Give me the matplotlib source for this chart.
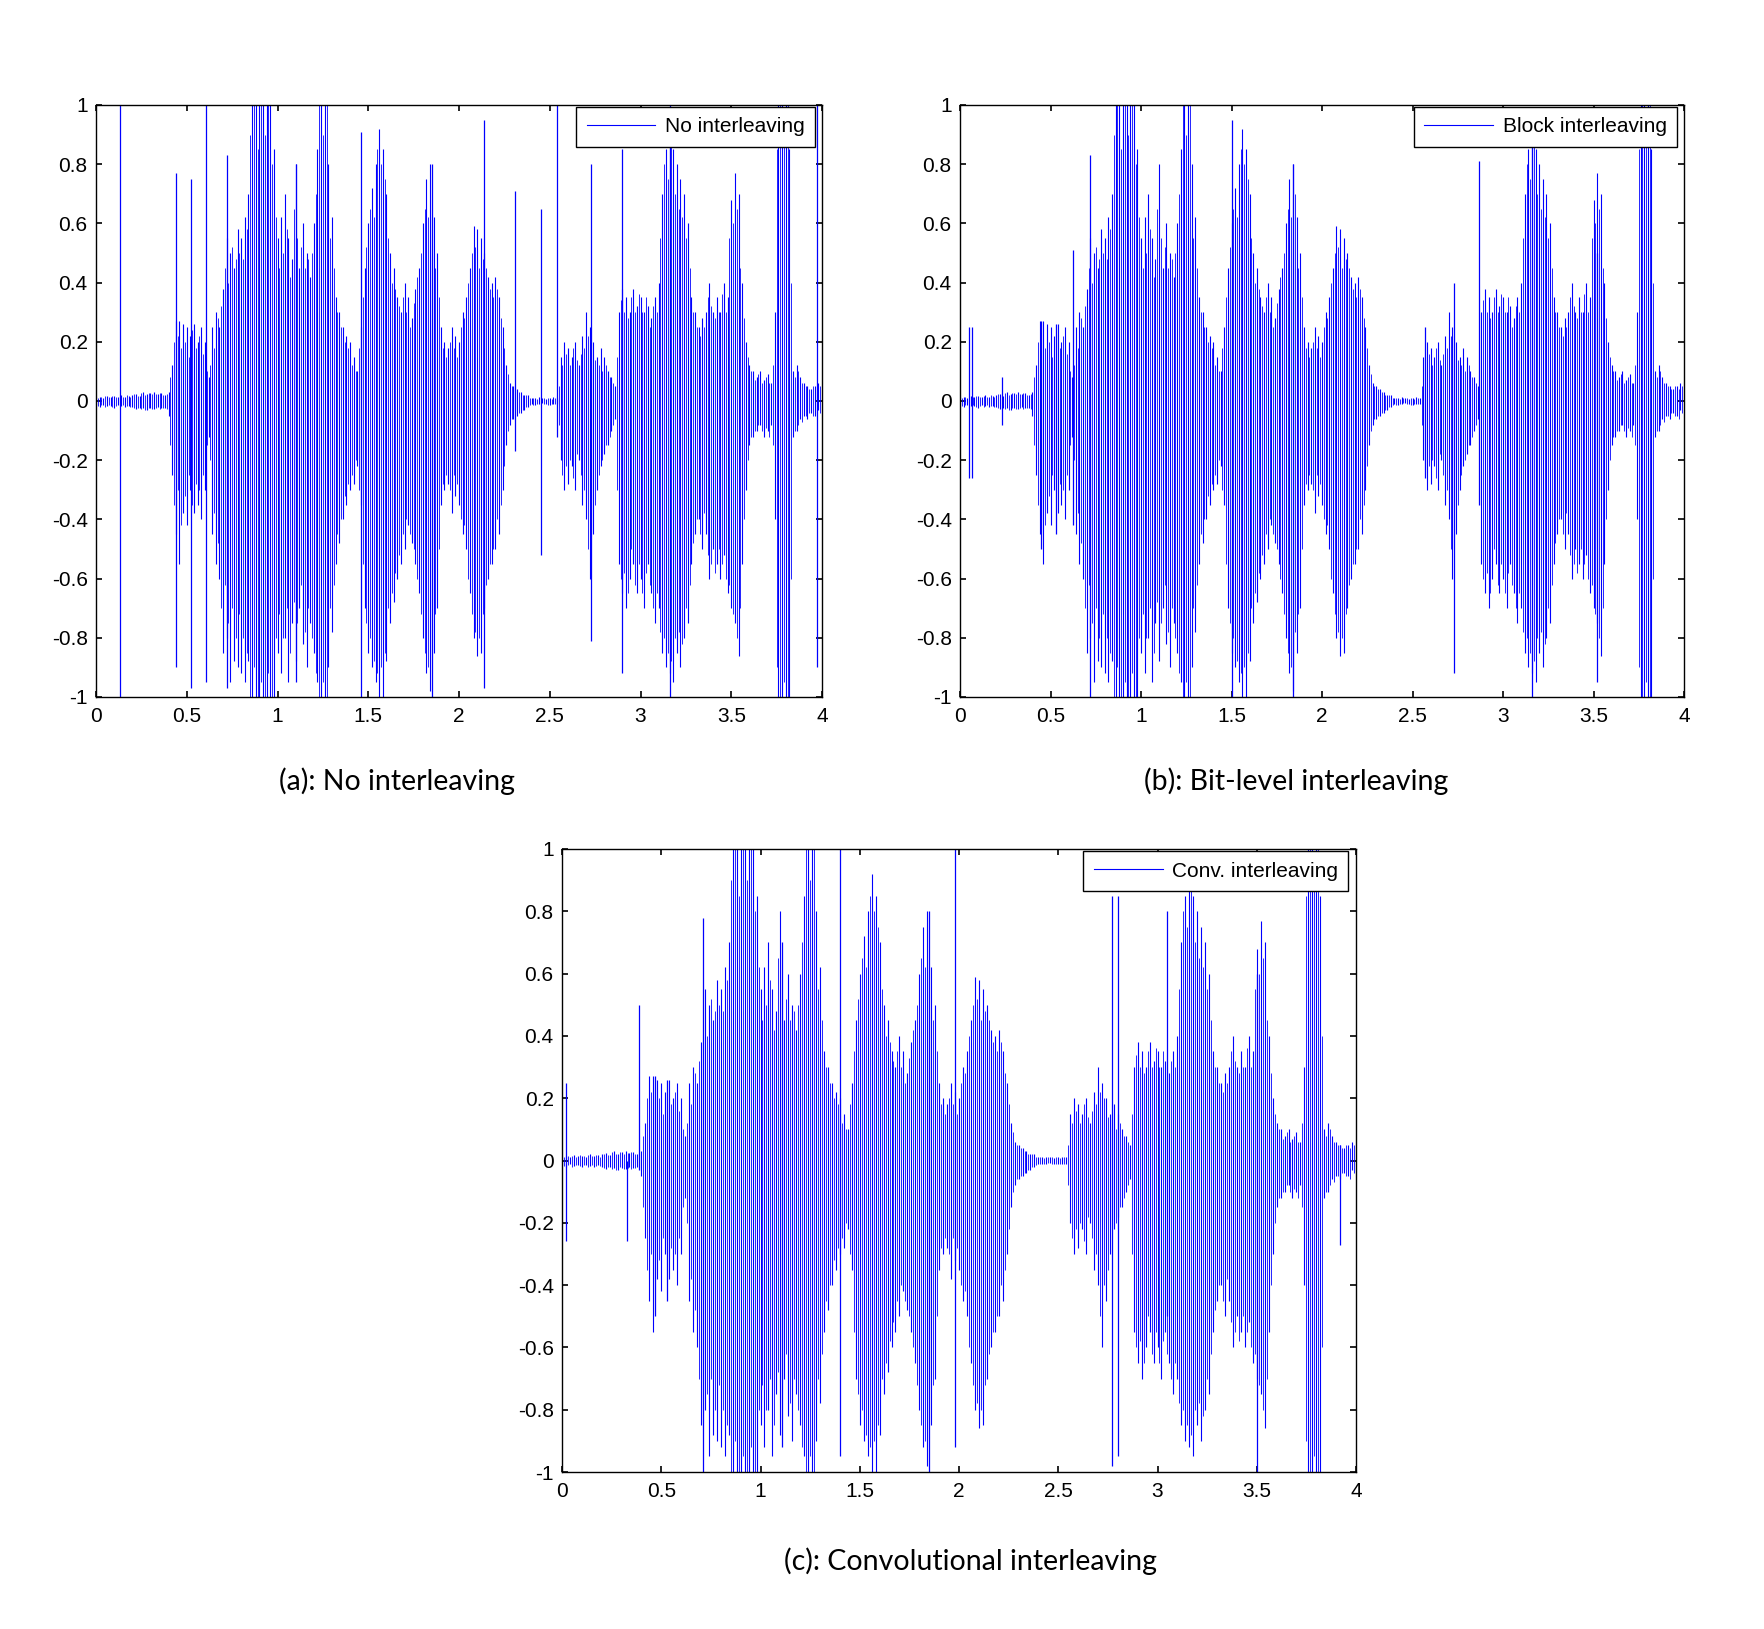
import numpy as np
import matplotlib
matplotlib.use("Agg")
import matplotlib.pyplot as plt
from matplotlib.lines import Line2D

plt.rcParams['axes.unicode_minus'] = False

# ---- data: waveform strokes ----
# main strokes every 20 ms
t_bins = np.round(np.arange(0, 4, 0.02), 2)

base_hi = [
    0.012, 0.015, 0.010, 0.018, 0.014, 0.016, 0.012, 0.020, 0.015, 0.018,
    0.020, 0.025, 0.018, 0.030, 0.022, 0.028, 0.030, 0.024, 0.026, 0.020,
    0.03, 0.12, 0.27, 0.27, 0.26, 0.25, 0.22, 0.26, 0.20, 0.25,
    0.20, 0.08, 0.25, 0.30, 0.25, 0.38, 0.55, 0.50, 0.45, 0.58,
    0.55, 0.62, 0.70, 1.0, 1.0, 1.0, 1.0, 1.0, 1.0, 0.85,
    0.55, 0.62, 0.70, 0.55, 0.48, 0.80, 0.45, 0.60, 0.50, 0.42,
    0.60, 0.85, 1.0, 1.0, 0.80, 0.62, 0.35, 0.30, 0.25, 0.22,
    0.20, 0.15, 0.10, 0.25, 0.45, 0.60, 0.72, 0.80, 0.92, 0.85,
    0.70, 0.50, 0.45, 0.35, 0.30, 0.40, 0.35, 0.28, 0.38, 0.45,
    0.60, 0.75, 0.80, 0.62, 0.50, 0.25, 0.20, 0.18, 0.25, 0.22,
    0.20, 0.30, 0.35, 0.45, 0.59, 0.58, 0.55, 0.50, 0.42, 0.40,
    0.42, 0.35, 0.25, 0.12, 0.06, 0.05, 0.04, 0.03, 0.02, 0.02,
    0.01, 0.01, 0.012, 0.01, 0.008, 0.01, 0.012, 0.01, 0.15, 0.20,
    0.18, 0.15, 0.20, 0.12, 0.22, 0.30, 0.25, 0.20, 0.15, 0.18,
    0.15, 0.10, 0.08, 0.05, 0.30, 0.38, 0.35, 0.30, 0.38, 0.32,
    0.35, 0.30, 0.32, 0.28, 0.35, 0.40, 0.70, 0.85, 0.95, 0.85,
    0.80, 0.75, 0.70, 0.60, 0.35, 0.30, 0.25, 0.28, 0.30, 0.40,
    0.30, 0.35, 0.30, 0.40, 0.35, 0.68, 0.77, 0.70, 0.40, 0.20,
    0.12, 0.10, 0.08, 0.10, 0.07, 0.09, 0.06, 0.30, 1.0, 1.0,
    1.0, 0.85, 0.10, 0.12, 0.08, 0.06, 0.05, 0.04, 0.05, 0.06,
]
base_lo = [
    -0.015, -0.020, -0.012, -0.018, -0.016, -0.022, -0.014, -0.018, -0.020, -0.016,
    -0.020, -0.028, -0.022, -0.025, -0.030, -0.024, -0.028, -0.020, -0.025, -0.022,
    -0.05, -0.25, -0.45, -0.55, -0.38, -0.42, -0.30, -0.38, -0.35, -0.40,
    -0.30, -0.12, -0.45, -0.55, -0.60, -0.85, -0.80, -0.95, -0.88, -0.90,
    -0.92, -0.95, -0.88, -1.0, -1.0, -1.0, -1.0, -1.0, -1.0, -1.0,
    -0.85, -0.92, -0.80, -0.95, -0.75, -0.88, -0.70, -0.82, -0.90, -0.75,
    -0.85, -0.95, -1.0, -1.0, -0.90, -0.78, -0.55, -0.48, -0.40, -0.35,
    -0.30, -0.28, -0.22, -0.35, -0.70, -0.85, -0.90, -0.95, -1.0, -1.0,
    -0.88, -0.75, -0.68, -0.60, -0.55, -0.50, -0.42, -0.48, -0.55, -0.65,
    -0.80, -0.92, -0.98, -0.85, -0.70, -0.35, -0.30, -0.28, -0.38, -0.32,
    -0.35, -0.45, -0.50, -0.65, -0.80, -0.86, -0.85, -0.70, -0.60, -0.55,
    -0.50, -0.45, -0.30, -0.15, -0.08, -0.06, -0.05, -0.04, -0.03, -0.02,
    -0.01, -0.012, -0.01, -0.008, -0.01, -0.012, -0.01, -0.01, -0.20, -0.30,
    -0.28, -0.22, -0.30, -0.20, -0.35, -0.40, -0.60, -0.45, -0.30, -0.22,
    -0.18, -0.15, -0.10, -0.06, -0.55, -0.65, -0.70, -0.60, -0.55, -0.65,
    -0.60, -0.70, -0.55, -0.65, -0.75, -0.70, -0.85, -0.90, -0.92, -0.95,
    -0.85, -0.90, -0.80, -0.75, -0.55, -0.45, -0.40, -0.50, -0.45, -0.60,
    -0.50, -0.55, -0.60, -0.52, -0.65, -0.70, -0.75, -0.86, -0.55, -0.30,
    -0.15, -0.12, -0.10, -0.08, -0.12, -0.10, -0.08, -0.40, -1.0, -1.0,
    -1.0, -1.0, -0.12, -0.10, -0.06, -0.05, -0.06, -0.04, -0.05, -0.03,
]

# in-between strokes (offset by 10 ms)
t_mid = np.round(np.arange(0.01, 4, 0.02), 2)

mid_hi = [
    0.010, 0.014, 0.016, 0.012, 0.018, 0.013, 0.017, 0.014, 0.019, 0.012,
    0.022, 0.018, 0.026, 0.020, 0.028, 0.022, 0.025, 0.028, 0.020, 0.024,
    0.08, 0.20, 0.22, 0.18, 0.20, 0.15, 0.24, 0.18, 0.22, 0.16,
    0.10, 0.12, 0.18, 0.28, 0.32, 0.45, 0.40, 0.52, 0.48, 0.50,
    0.48, 0.58, 0.90, 1.0, 0.85, 1.0, 0.90, 1.0, 0.80, 0.62,
    0.45, 0.50, 0.58, 0.42, 0.65, 0.55, 0.52, 0.45, 0.48, 0.50,
    0.70, 1.0, 0.90, 1.0, 0.55, 0.45, 0.30, 0.25, 0.20, 0.18,
    0.12, 0.10, 0.18, 0.35, 0.52, 0.65, 0.62, 0.85, 0.80, 0.75,
    0.55, 0.40, 0.38, 0.32, 0.35, 0.30, 0.25, 0.33, 0.42, 0.50,
    0.65, 0.62, 0.70, 0.45, 0.35, 0.18, 0.15, 0.20, 0.18, 0.15,
    0.25, 0.28, 0.40, 0.50, 0.52, 0.45, 0.48, 0.45, 0.38, 0.35,
    0.38, 0.28, 0.18, 0.09, 0.05, 0.04, 0.03, 0.02, 0.02, 0.01,
    0.01, 0.008, 0.01, 0.01, 0.01, 0.008, 0.01, 0.05, 0.12, 0.16,
    0.12, 0.18, 0.14, 0.16, 0.18, 0.22, 0.20, 0.14, 0.12, 0.10,
    0.12, 0.08, 0.06, 0.15, 0.34, 0.30, 0.28, 0.35, 0.30, 0.36,
    0.30, 0.35, 0.25, 0.32, 0.30, 0.55, 0.80, 0.75, 0.88, 0.70,
    0.65, 0.62, 0.55, 0.45, 0.30, 0.25, 0.22, 0.25, 0.35, 0.32,
    0.28, 0.30, 0.36, 0.30, 0.55, 0.60, 0.65, 0.45, 0.28, 0.15,
    0.10, 0.07, 0.09, 0.06, 0.08, 0.06, 0.12, 0.85, 1.0, 0.90,
    1.0, 0.40, 0.08, 0.10, 0.06, 0.05, 0.04, 0.05, 0.04, 0.05,
]
mid_lo = [
    -0.018, -0.013, -0.020, -0.015, -0.019, -0.016, -0.020, -0.013, -0.017, -0.019,
    -0.025, -0.022, -0.027, -0.030, -0.022, -0.026, -0.024, -0.027, -0.023, -0.026,
    -0.15, -0.35, -0.30, -0.42, -0.32, -0.25, -0.35, -0.28, -0.30, -0.25,
    -0.15, -0.20, -0.38, -0.48, -0.70, -0.62, -0.75, -0.70, -0.80, -0.72,
    -0.80, -0.85, -1.0, -0.90, -1.0, -0.95, -1.0, -0.92, -1.0, -0.80,
    -0.72, -0.80, -0.70, -0.85, -0.68, -0.75, -0.62, -0.78, -0.70, -0.80,
    -0.92, -1.0, -0.95, -1.0, -0.70, -0.62, -0.45, -0.40, -0.32, -0.28,
    -0.25, -0.20, -0.30, -0.55, -0.75, -0.80, -0.88, -0.92, -0.90, -0.85,
    -0.70, -0.65, -0.58, -0.52, -0.45, -0.40, -0.45, -0.50, -0.60, -0.72,
    -0.85, -0.90, -0.78, -0.72, -0.50, -0.28, -0.25, -0.30, -0.25, -0.28,
    -0.40, -0.42, -0.60, -0.72, -0.78, -0.80, -0.72, -0.62, -0.55, -0.50,
    -0.40, -0.35, -0.22, -0.10, -0.06, -0.05, -0.04, -0.03, -0.02, -0.015,
    -0.012, -0.01, -0.008, -0.01, -0.012, -0.01, -0.01, -0.08, -0.25, -0.22,
    -0.20, -0.26, -0.18, -0.25, -0.30, -0.50, -0.40, -0.35, -0.25, -0.20,
    -0.15, -0.12, -0.08, -0.30, -0.60, -0.58, -0.65, -0.50, -0.62, -0.55,
    -0.65, -0.58, -0.62, -0.70, -0.65, -0.78, -0.80, -0.85, -0.88, -0.80,
    -0.78, -0.82, -0.70, -0.62, -0.48, -0.40, -0.45, -0.38, -0.52, -0.55,
    -0.58, -0.50, -0.55, -0.60, -0.62, -0.72, -0.80, -0.70, -0.40, -0.20,
    -0.12, -0.10, -0.08, -0.10, -0.09, -0.12, -0.15, -0.90, -1.0, -0.95,
    -1.0, -0.60, -0.10, -0.08, -0.07, -0.05, -0.04, -0.05, -0.06, -0.04,
]

# error spikes specific to each panel: time, top, bottom
spikes_a_t  = [0.133, 0.44, 0.525, 0.605, 0.72, 1.10, 1.46, 1.85, 2.14, 2.31, 2.45, 2.54, 2.73, 2.90, 3.16, 3.97]
spikes_a_hi = [1.0, 0.77, 0.75, 1.0, 0.83, 0.80, 0.91, 0.80, 0.95, 0.71, 0.65, 1.0, 0.80, 0.85, 1.0, 1.0]
spikes_a_lo = [-1.0, -0.90, -0.97, -0.95, -0.97, -0.95, -1.0, -1.0, -0.97, -0.17, -0.52, -0.12, -0.81, -0.92, -1.0, -0.90]

spikes_b_t  = [0.05, 0.065, 0.23, 0.45, 0.53, 0.625, 0.72, 1.50, 1.84, 2.57, 2.73, 2.87, 3.16, 3.52]
spikes_b_hi = [0.25, 0.25, 0.08, 0.27, 0.26, 0.51, 0.83, 0.95, 0.80, 0.25, 0.40, 0.81, 0.86, 0.50]
spikes_b_lo = [-0.26, -0.26, -0.08, -0.50, -0.45, -0.42, -1.0, -1.0, -1.0, -0.26, -0.92, -0.35, -1.0, -0.95]

spikes_c_t  = [0.02, 0.325, 0.39, 0.47, 0.53, 0.71, 1.11, 1.40, 1.85, 1.98, 2.77, 2.80, 3.05, 3.50, 3.92]
spikes_c_hi = [0.25, 0.0, 0.50, 0.27, 0.26, 0.78, 0.70, 1.0, 0.80, 1.0, 0.85, 0.85, 0.80, 0.60, 0.05]
spikes_c_lo = [-0.26, -0.26, -0.03, -0.50, -0.45, -1.0, -0.92, -0.95, -1.0, -0.92, -0.98, -0.95, -0.50, -1.0, -0.27]

legend_labels = ["No interleaving", "Block interleaving", "Conv. interleaving"]
captions = ["(a): No interleaving", "(b): Bit-level interleaving", "(c): Convolutional interleaving"]
x_ticks = [0, 0.5, 1, 1.5, 2, 2.5, 3, 3.5, 4]
x_ticklabels = ["0", "0.5", "1", "1.5", "2", "2.5", "3", "3.5", "4"]
y_ticks = [-1, -0.8, -0.6, -0.4, -0.2, 0, 0.2, 0.4, 0.6, 0.8, 1]
y_ticklabels = ["-1", "-0.8", "-0.6", "-0.4", "-0.2", "0", "0.2", "0.4", "0.6", "0.8", "1"]

# ---- figure ----
W, H = 1764, 1629
fig = plt.figure(figsize=(W / 100, H / 100), dpi=100)

def px_axes(l, t, r, b):
    return [l / W, 1 - b / H, (r - l) / W, (b - t) / H]

panels = [
    (px_axes(96, 105, 822, 697), spikes_a_t, spikes_a_hi, spikes_a_lo, legend_labels[0], captions[0], (397, 781)),
    (px_axes(960, 105, 1684, 697), spikes_b_t, spikes_b_hi, spikes_b_lo, legend_labels[1], captions[1], (1296, 781)),
    (px_axes(562, 849, 1356, 1472), spikes_c_t, spikes_c_hi, spikes_c_lo, legend_labels[2], captions[2], (971, 1561)),
]

tick_font = dict(family=["Liberation Sans", "DejaVu Sans"], size=15)
BLUE = "#0000ff"

for rect, st, shi, slo, lab, cap, cpos in panels:
    ax = fig.add_axes(rect)
    ax.vlines(t_bins, base_lo, base_hi, colors=BLUE, linewidth=0.8)
    ax.vlines(t_mid, mid_lo, mid_hi, colors=BLUE, linewidth=0.6)
    ax.vlines(st, slo, shi, colors=BLUE, linewidth=0.9)
    ax.set_xlim(0, 4)
    ax.set_ylim(-1, 1)
    ax.set_xticks(x_ticks)
    ax.set_xticklabels(x_ticklabels, fontdict=tick_font)
    ax.set_yticks(y_ticks)
    ax.set_yticklabels(y_ticklabels, fontdict=tick_font)
    ax.tick_params(direction="in", top=True, right=True, length=4, width=1.2,
                   pad=6, colors="black")
    ax.tick_params(axis="x", pad=7)
    for sp in ax.spines.values():
        sp.set_linewidth(1.0)
        sp.set_color("black")
    handle = Line2D([0], [0], color=BLUE, linewidth=0.8)
    leg = ax.legend([handle], [lab], loc="upper right",
                    bbox_to_anchor=(1 - 7 / 726, 1 - 2 / 592), borderaxespad=0,
                    prop=dict(family=["Liberation Sans", "DejaVu Sans"], size=15),
                    handlelength=3.3, handletextpad=0.45, borderpad=0.5,
                    fancybox=False, framealpha=1, edgecolor="black")
    leg.get_frame().set_linewidth(1.0)
    fig.text(cpos[0] / W, 1 - cpos[1] / H, cap, ha="center", va="center",
             family=["Lato", "DejaVu Sans"], fontsize=20.5)

fig.savefig("out.png", dpi=100)
